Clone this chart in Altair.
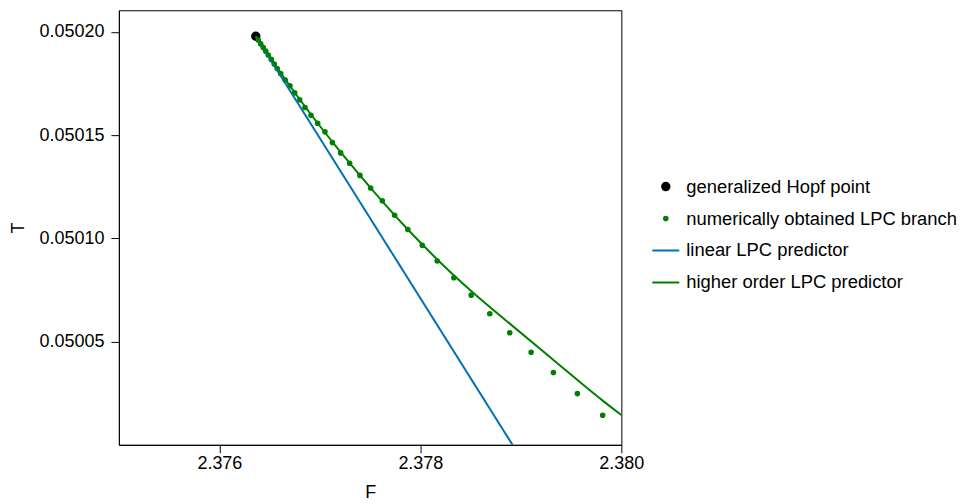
import altair as alt
import pandas as pd

# ---- data ----
series_names = [
    "generalized Hopf point",
    "numerically obtained LPC branch",
    "linear LPC predictor",
    "higher order LPC predictor",
]
series_colors = ["#000000", "#008000", "#0072B2", "#008000"]

hopf_F = [2.376362]
hopf_T = [0.0501979]

branch_F = [2.3763866, 2.3764115, 2.3764363, 2.3764612, 2.3764860, 2.3765159,
            2.3765457, 2.3765755, 2.3766103, 2.3766550, 2.3767027, 2.3767494,
            2.3767991, 2.3768518, 2.3769115, 2.3769781, 2.3770506, 2.3771242,
            2.3772067, 2.3772961, 2.3773985, 2.3775049, 2.3776212, 2.3777434,
            2.3778756, 2.3780188, 2.3781679, 2.3783329, 2.3785058, 2.3786907,
            2.3788895, 2.3791022, 2.3793239, 2.3795625, 2.3798140]
branch_T = [0.0501961, 0.0501942, 0.0501924, 0.0501907, 0.0501888, 0.0501867,
            0.0501845, 0.0501823, 0.0501798, 0.0501767, 0.0501739, 0.0501705,
            0.0501671, 0.0501634, 0.0501596, 0.0501558, 0.0501516, 0.0501464,
            0.0501414, 0.0501364, 0.0501305, 0.0501244, 0.0501182, 0.0501112,
            0.0501043, 0.0500967, 0.0500890, 0.0500809, 0.0500725, 0.0500635,
            0.0500543, 0.0500448, 0.0500350, 0.0500248, 0.0500143]

linear_F = [2.376362, 2.379046]
linear_T = [0.0501979, 0.0499900]

higher_F = [2.376362, 2.3766103, 2.3769115, 2.3772067, 2.3775049, 2.3778756,
            2.3781679, 2.3785058, 2.3788895, 2.3793239, 2.3798140, 2.3800000,
            2.3801887]
higher_T = [0.0501979, 0.0501801, 0.0501600, 0.0501418, 0.0501245, 0.0501043,
            0.0500898, 0.0500745, 0.0500587, 0.0500411, 0.0500214, 0.0500144,
            0.0500075]

x_ticks = [2.376, 2.378, 2.380]
y_ticks = [0.05005, 0.05010, 0.05015, 0.05020]
x_domain = [2.375, 2.380]
y_domain = [0.05000, 0.0502105]

# ---- tables ----
pts = pd.DataFrame({
    "F": hopf_F + branch_F,
    "T": hopf_T + branch_T,
    "series": [series_names[0]] * len(hopf_F) + [series_names[1]] * len(branch_F),
})
lin = pd.DataFrame({"F": linear_F, "T": linear_T, "series": series_names[2]})
hig = pd.DataFrame({"F": higher_F, "T": higher_T, "series": series_names[3]})

FONT = "Liberation Sans"
FS = 18

xs = alt.Scale(domain=x_domain, nice=False, zero=False)
ys = alt.Scale(domain=y_domain, nice=False, zero=False)
xax = alt.Axis(values=x_ticks, format=".3f", grid=False, tickSize=8,
               labelPadding=2, titlePadding=11, labelFlush=False)
yax = alt.Axis(values=y_ticks, format=".5f", grid=False, tickSize=8,
               labelPadding=7, titlePadding=11)

leg = alt.Legend(title=None, orient="none", legendX=533, legendY=163,
                 labelFontSize=18.4, labelFont=FONT, labelColor="black",
                 labelOffset=6, rowPadding=5, clipHeight=27, padding=0,
                 symbolStrokeWidth=2, symbolOpacity=1, labelLimit=400)

X = alt.X("F:Q", scale=xs, axis=xax, title="F")
Y = alt.Y("T:Q", scale=ys, axis=yax, title="T")

points = alt.Chart(pts).mark_point(filled=True, opacity=1, strokeWidth=2).encode(
    x=X, y=Y,
    fill=alt.Fill("series:N", scale=alt.Scale(domain=series_names, range=series_colors), legend=leg),
    stroke=alt.Stroke("series:N", scale=alt.Scale(domain=series_names, range=series_colors), legend=leg),
    shape=alt.Shape("series:N", scale=alt.Scale(domain=series_names,
                    range=["circle", "circle", "stroke", "stroke"]), legend=leg),
    size=alt.Size("series:N", scale=alt.Scale(type="ordinal", domain=series_names,
                  range=[55, 13, 729, 729]), legend=leg),
)

color_scale = alt.Scale(domain=series_names, range=series_colors)
line_lin = alt.Chart(lin).mark_line(strokeWidth=2, clip=True).encode(
    x=X, y=Y, color=alt.Color("series:N", scale=color_scale, legend=None))
line_hig = alt.Chart(hig).mark_line(strokeWidth=2, clip=True, interpolate="monotone").encode(
    x=X, y=Y, color=alt.Color("series:N", scale=color_scale, legend=None))

chart = alt.layer(points, line_lin, line_hig).properties(
    width=503, height=435,
    padding={"left": 1, "top": 2, "right": 0, "bottom": 0},
).configure_view(
    stroke="black", strokeWidth=1
).configure_axis(
    labelFont=FONT, titleFont=FONT, labelFontSize=FS, titleFontSize=FS,
    labelColor="black", titleColor="black", titleFontWeight="normal",
    domainColor="black", tickColor="black", domainWidth=1, tickWidth=1,
)

chart.save("out.html", embed_options={"renderer": "svg", "actions": False})
